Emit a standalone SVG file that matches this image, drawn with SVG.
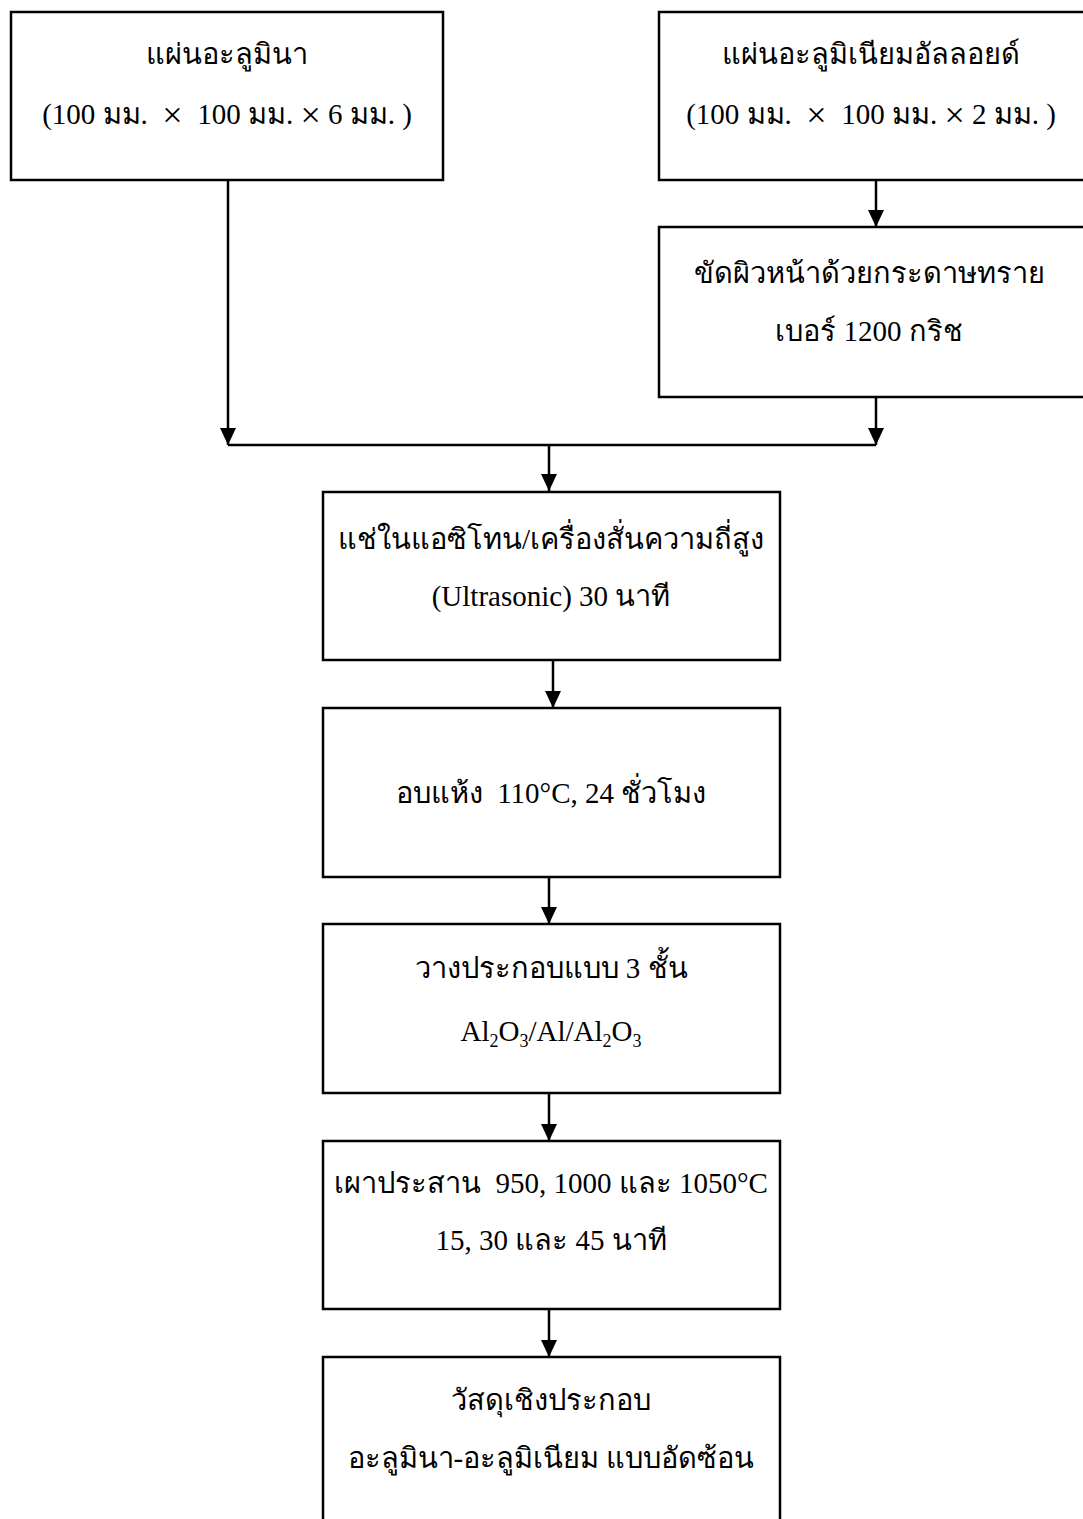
<svg xmlns="http://www.w3.org/2000/svg" width="1083" height="1519" viewBox="0 0 1083 1519">
<style>
.box{fill:#fff;stroke:#000;stroke-width:2.5}
.t{font-family:"Liberation Serif",serif;font-size:29px;fill:#000;text-anchor:middle}
.c{fill:none;stroke:#000;stroke-width:2.5}
.sub{font-size:18px}
.x{font-size:36px}
</style>
<defs>
<marker id="ah" markerWidth="18" markerHeight="18" refX="17" refY="8" orient="auto" markerUnits="userSpaceOnUse">
<path d="M0,0 L17,8 L0,16 Z" fill="#000"/>
</marker>
</defs>
<rect width="1083" height="1519" fill="#fff"/>
<g id="connectors">
<path class="c" d="M228,180 V445" marker-end="url(#ah)"/>
<path class="c" d="M876,180 V227" marker-end="url(#ah)"/>
<path class="c" d="M876,397 V445" marker-end="url(#ah)"/>
<path class="c" d="M228,445 H876"/>
<path class="c" d="M549,445 V491" marker-end="url(#ah)"/>
<path class="c" d="M553,660 V708" marker-end="url(#ah)"/>
<path class="c" d="M549,877 V924" marker-end="url(#ah)"/>
<path class="c" d="M549,1093 V1141" marker-end="url(#ah)"/>
<path class="c" d="M549,1309 V1357" marker-end="url(#ah)"/>
</g>
<g id="n1">
<rect class="box" x="11" y="12" width="432" height="168"/>
<text class="t" x="227" y="64">แผ่นอะลูมินา</text>
<text class="t" x="227" y="124">(100 มม.&#160; <tspan class="x" dy="3">×</tspan><tspan dy="-3">&#160; 100 มม. </tspan><tspan class="x" dy="3">×</tspan><tspan dy="-3"> 6 มม. )</tspan></text>
</g>
<g id="n2">
<rect class="box" x="659" y="12" width="440" height="168"/>
<text class="t" x="871" y="64">แผ่นอะลูมิเนียมอัลลอยด์</text>
<text class="t" x="871" y="124">(100 มม.&#160; <tspan class="x" dy="3">×</tspan><tspan dy="-3">&#160; 100 มม. </tspan><tspan class="x" dy="3">×</tspan><tspan dy="-3"> 2 มม. )</tspan></text>
</g>
<g id="n3">
<rect class="box" x="659" y="227" width="440" height="170"/>
<text class="t" x="869" y="283">ขัดผิวหน้าด้วยกระดาษทราย</text>
<text class="t" x="869" y="341">เบอร์ 1200 กริช</text>
</g>
<g id="n4">
<rect class="box" x="323" y="492" width="457" height="168"/>
<text class="t" x="551" y="549">แช่ในแอซิโทน/เครื่องสั่นความถี่สูง</text>
<text class="t" x="551" y="606">(Ultrasonic) 30 นาที</text>
</g>
<g id="n5">
<rect class="box" x="323" y="708" width="457" height="169"/>
<text class="t" x="551" y="803">อบแห้ง&#160; 110°C, 24 ชั่วโมง</text>
</g>
<g id="n6">
<rect class="box" x="323" y="924" width="457" height="169"/>
<text class="t" x="551" y="978">วางประกอบแบบ 3 ชั้น</text>
<text class="t" x="551" y="1041">Al<tspan class="sub" dy="6">2</tspan><tspan dy="-6">O</tspan><tspan class="sub" dy="6">3</tspan><tspan dy="-6">/Al/Al</tspan><tspan class="sub" dy="6">2</tspan><tspan dy="-6">O</tspan><tspan class="sub" dy="6">3</tspan></text>
</g>
<g id="n7">
<rect class="box" x="323" y="1141" width="457" height="168"/>
<text class="t" x="551" y="1193">เผาประสาน&#160; 950, 1000 และ 1050°C</text>
<text class="t" x="551" y="1250">15, 30 และ 45 นาที</text>
</g>
<g id="n8">
<rect class="box" x="323" y="1357" width="457" height="175"/>
<text class="t" x="551" y="1410">วัสดุเชิงประกอบ</text>
<text class="t" x="551" y="1468">อะลูมินา-อะลูมิเนียม แบบอัดซ้อน</text>
</g>
</svg>
